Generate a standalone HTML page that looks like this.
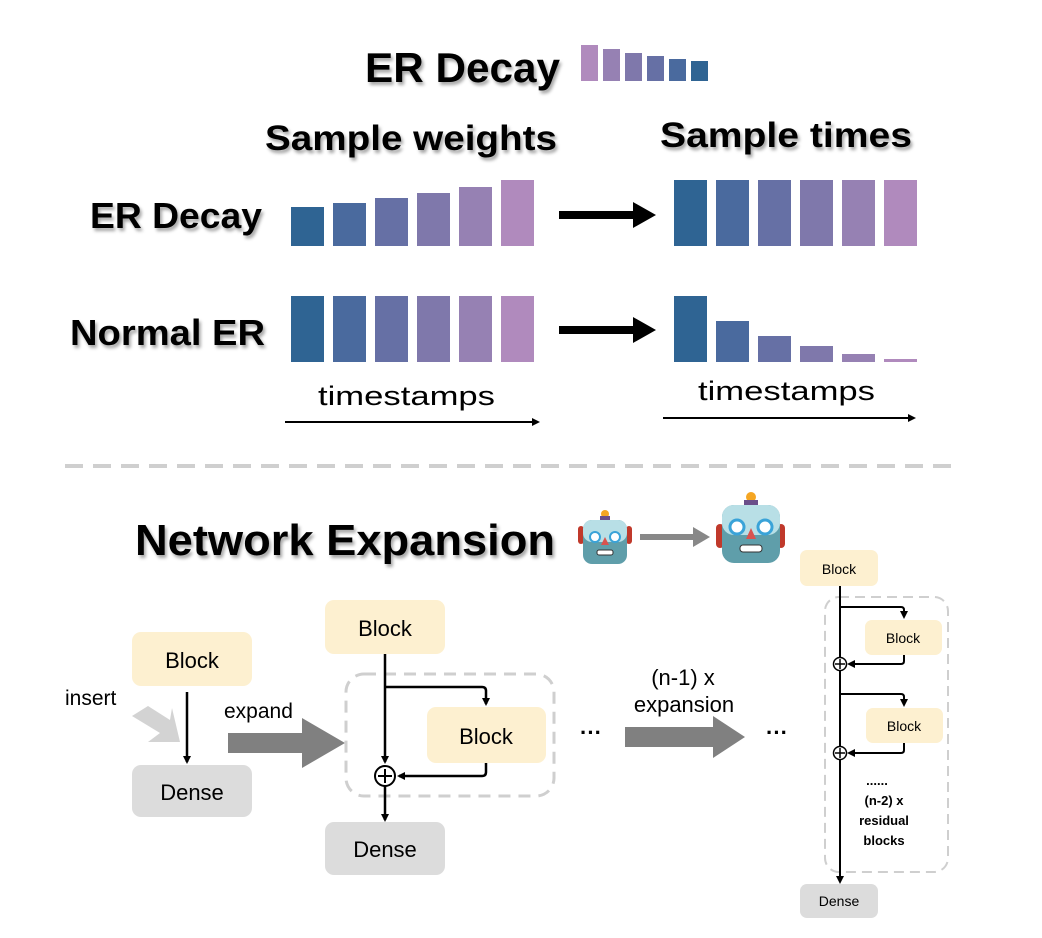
<!DOCTYPE html>
<html><head><meta charset="utf-8"><style>
html,body{margin:0;padding:0;background:#fff;}
svg{display:block;}
.t{font-family:"Liberation Sans","DejaVu Sans",sans-serif;}
.h{font-weight:bold;}
</style></head><body>
<svg width="1042" height="938" viewBox="0 0 1042 938" xmlns="http://www.w3.org/2000/svg">
<defs>
<filter id="sh" x="-5%" y="-5%" width="115%" height="130%"><feDropShadow dx="2" dy="3" stdDeviation="1.5" flood-color="#000" flood-opacity="0.35"/></filter>
<marker id="ah" markerWidth="8" markerHeight="8" refX="6" refY="4" orient="auto" markerUnits="userSpaceOnUse"><path d="M0,0 L8,4 L0,8 Z" fill="#000"/></marker>
<marker id="ah2" markerWidth="12" markerHeight="12" refX="10" refY="6" orient="auto" markerUnits="userSpaceOnUse"><path d="M0,1 L12,6 L0,11 Z" fill="#000"/></marker>
</defs>
<rect width="1042" height="938" fill="#fff"/>

<!-- title -->
<text x="365" y="82" class="t h" font-size="42" filter="url(#sh)" textLength="195" lengthAdjust="spacingAndGlyphs">ER Decay</text>
<g>
<rect x="581" y="45" width="17" height="36" fill="#b08abd"/>
<rect x="603" y="49" width="17" height="32" fill="#9681b3"/>
<rect x="625" y="53" width="17" height="28" fill="#7f78ab"/>
<rect x="647" y="56" width="17" height="25" fill="#6670a5"/>
<rect x="669" y="59" width="17" height="22" fill="#4a6a9e"/>
<rect x="691" y="61" width="17" height="20" fill="#2f6493"/>
</g>

<text x="265" y="150" class="t h" font-size="35" filter="url(#sh)" textLength="292" lengthAdjust="spacingAndGlyphs">Sample weights</text>
<text x="660" y="147" class="t h" font-size="35" filter="url(#sh)" textLength="252" lengthAdjust="spacingAndGlyphs">Sample times</text>
<text x="90" y="228" class="t h" font-size="36" filter="url(#sh)" textLength="172" lengthAdjust="spacingAndGlyphs">ER Decay</text>
<text x="70" y="345" class="t h" font-size="36" filter="url(#sh)" textLength="195" lengthAdjust="spacingAndGlyphs">Normal ER</text>

<!-- ER decay left bars -->
<rect x="291" y="207" width="33" height="39" fill="#2f6493"/>
<rect x="333" y="203" width="33" height="43" fill="#4a6a9e"/>
<rect x="375" y="198" width="33" height="48" fill="#6670a5"/>
<rect x="417" y="193" width="33" height="53" fill="#7f78ab"/>
<rect x="459" y="187" width="33" height="59" fill="#9681b3"/>
<rect x="501" y="180" width="33" height="66" fill="#b08abd"/>
<!-- right -->
<rect x="674" y="180" width="33" height="66" fill="#2f6493"/>
<rect x="716" y="180" width="33" height="66" fill="#4a6a9e"/>
<rect x="758" y="180" width="33" height="66" fill="#6670a5"/>
<rect x="800" y="180" width="33" height="66" fill="#7f78ab"/>
<rect x="842" y="180" width="33" height="66" fill="#9681b3"/>
<rect x="884" y="180" width="33" height="66" fill="#b08abd"/>
<!-- normal left -->
<rect x="291" y="296" width="33" height="66" fill="#2f6493"/>
<rect x="333" y="296" width="33" height="66" fill="#4a6a9e"/>
<rect x="375" y="296" width="33" height="66" fill="#6670a5"/>
<rect x="417" y="296" width="33" height="66" fill="#7f78ab"/>
<rect x="459" y="296" width="33" height="66" fill="#9681b3"/>
<rect x="501" y="296" width="33" height="66" fill="#b08abd"/>
<!-- normal right -->
<rect x="674" y="296" width="33" height="66" fill="#2f6493"/>
<rect x="716" y="321" width="33" height="41" fill="#4a6a9e"/>
<rect x="758" y="336" width="33" height="26" fill="#6670a5"/>
<rect x="800" y="346" width="33" height="16" fill="#7f78ab"/>
<rect x="842" y="354" width="33" height="8" fill="#9681b3"/>
<rect x="884" y="359" width="33" height="3" fill="#b08abd"/>

<!-- thick arrows -->
<path d="M559,211 L633,211 L633,202 L656,215 L633,228 L633,219 L559,219 Z" fill="#000"/>
<path d="M559,326 L633,326 L633,317 L656,330 L633,343 L633,334 L559,334 Z" fill="#000"/>

<text x="318" y="405" class="t" font-size="27" textLength="177" lengthAdjust="spacingAndGlyphs">timestamps</text>
<text x="698" y="400" class="t" font-size="27" textLength="177" lengthAdjust="spacingAndGlyphs">timestamps</text>
<line x1="285" y1="422" x2="538" y2="422" stroke="#000" stroke-width="2" marker-end="url(#ah)"/>
<line x1="663" y1="418" x2="914" y2="418" stroke="#000" stroke-width="2" marker-end="url(#ah)"/>

<line x1="65" y1="466" x2="955" y2="466" stroke="#cfcfcf" stroke-width="4" stroke-dasharray="18,10"/>

<text x="135" y="555" class="t h" font-size="44" filter="url(#sh)" textLength="420" lengthAdjust="spacingAndGlyphs">Network Expansion</text>

<!-- robots -->
<g>
<rect x="578" y="526" width="6" height="18" rx="3" fill="#c0392b"/>
<rect x="626" y="526" width="6" height="18" rx="3" fill="#c0392b"/>
<circle cx="605" cy="514" r="4" fill="#f5a623"/>
<rect x="600" y="516" width="10" height="4" fill="#6b4f8a"/>
<rect x="583" y="520" width="44" height="44" rx="9" fill="#5f9eaa"/>
<rect x="583" y="520" width="44" height="22" rx="9" fill="#b8dfe6"/>
<circle cx="595" cy="537" r="5" fill="#fff" stroke="#3aa3d8" stroke-width="2"/>
<circle cx="615" cy="537" r="5" fill="#fff" stroke="#3aa3d8" stroke-width="2"/>
<path d="M605,537 L601,545 L609,545 Z" fill="#d9534f"/>
<rect x="597" y="550" width="16" height="5" rx="2" fill="#fff" stroke="#333" stroke-width="1"/>
</g>
<path d="M640,534 L693,534 L693,527 L710,537 L693,547 L693,540 L640,540 Z" fill="#888"/>
<g>
<rect x="716" y="524" width="8" height="24" rx="4" fill="#c0392b"/>
<rect x="777" y="524" width="8" height="24" rx="4" fill="#c0392b"/>
<circle cx="751" cy="497" r="5" fill="#f5a623"/>
<rect x="744" y="500" width="14" height="5" fill="#6b4f8a"/>
<rect x="722" y="505" width="58" height="58" rx="12" fill="#5f9eaa"/>
<rect x="722" y="505" width="58" height="30" rx="12" fill="#b8dfe6"/>
<circle cx="737" cy="527" r="7" fill="#fff" stroke="#3aa3d8" stroke-width="3"/>
<circle cx="765" cy="527" r="7" fill="#fff" stroke="#3aa3d8" stroke-width="3"/>
<path d="M751,528 L746,539 L756,539 Z" fill="#d9534f"/>
<rect x="740" y="545" width="22" height="7" rx="3" fill="#fff" stroke="#333" stroke-width="1"/>
</g>

<!-- left diagram -->
<rect x="132" y="632" width="120" height="54" rx="9" fill="#fdf0d0"/>
<text x="192" y="668" class="t" font-size="22" text-anchor="middle">Block</text>
<rect x="132" y="765" width="120" height="52" rx="9" fill="#dcdcdc"/>
<text x="192" y="800" class="t" font-size="22" text-anchor="middle">Dense</text>
<line x1="187" y1="692" x2="187" y2="762" stroke="#000" stroke-width="2.5" marker-end="url(#ah)"/>
<text x="65" y="705" class="t" font-size="21">insert</text>
<path d="M132,716 L148,706 L170,720 L172,708 L180,742 L148,742 L160,733 Z" fill="#d3d3d3"/>
<text x="224" y="718" class="t" font-size="21">expand</text>
<path d="M228,733 L302,733 L302,718 L345,743 L302,768 L302,753 L228,753 Z" fill="#808080"/>

<!-- middle -->
<rect x="325" y="600" width="120" height="54" rx="9" fill="#fdf0d0"/>
<text x="385" y="636" class="t" font-size="22" text-anchor="middle">Block</text>
<rect x="346" y="674" width="208" height="122" rx="18" fill="none" stroke="#cfcfcf" stroke-width="3" stroke-dasharray="12,8"/>
<rect x="427" y="707" width="119" height="56" rx="9" fill="#fdf0d0"/>
<text x="486" y="744" class="t" font-size="22" text-anchor="middle">Block</text>
<line x1="385" y1="654" x2="385" y2="762" stroke="#000" stroke-width="2.5" marker-end="url(#ah)"/>
<path d="M385,687 L482,687 Q486,687 486,691 L486,704" fill="none" stroke="#000" stroke-width="2.5" marker-end="url(#ah)"/>
<path d="M486,763 L486,772 Q486,776 482,776 L399,776" fill="none" stroke="#000" stroke-width="2.5" marker-end="url(#ah)"/>
<circle cx="385" cy="776" r="10" fill="#fff" stroke="#000" stroke-width="2"/>
<line x1="378" y1="776" x2="392" y2="776" stroke="#000" stroke-width="2"/>
<line x1="385" y1="769" x2="385" y2="783" stroke="#000" stroke-width="2"/>
<line x1="385" y1="786" x2="385" y2="820" stroke="#000" stroke-width="2.5" marker-end="url(#ah)"/>
<rect x="325" y="822" width="120" height="53" rx="9" fill="#dcdcdc"/>
<text x="385" y="857" class="t" font-size="22" text-anchor="middle">Dense</text>

<text x="591" y="740" class="t h" font-size="22" text-anchor="middle">···</text>
<text x="683" y="685" class="t" font-size="22" text-anchor="middle">(n-1) x</text>
<text x="684" y="712" class="t" font-size="22" text-anchor="middle">expansion</text>
<path d="M625,727 L713,727 L713,716 L745,737 L713,758 L713,747 L625,747 Z" fill="#808080"/>
<text x="777" y="740" class="t h" font-size="22" text-anchor="middle">···</text>

<!-- right -->
<rect x="800" y="550" width="78" height="36" rx="7" fill="#fdf0d0"/>
<text x="839" y="574" class="t" font-size="14" text-anchor="middle">Block</text>
<rect x="825" y="597" width="123" height="275" rx="14" fill="none" stroke="#cfcfcf" stroke-width="2" stroke-dasharray="10,6"/>
<line x1="840" y1="586" x2="840" y2="882" stroke="#000" stroke-width="2" marker-end="url(#ah)"/>
<rect x="865" y="620" width="77" height="35" rx="7" fill="#fdf0d0"/>
<text x="903" y="643" class="t" font-size="14" text-anchor="middle">Block</text>
<rect x="866" y="708" width="77" height="35" rx="7" fill="#fdf0d0"/>
<text x="904" y="731" class="t" font-size="14" text-anchor="middle">Block</text>
<path d="M840,607 L901,607 Q904,607 904,610 L904,617" fill="none" stroke="#000" stroke-width="2" marker-end="url(#ah)"/>
<path d="M904,655 L904,661 Q904,664 901,664 L849,664" fill="none" stroke="#000" stroke-width="2" marker-end="url(#ah)"/>
<path d="M840,694 L901,694 Q904,694 904,697 L904,705" fill="none" stroke="#000" stroke-width="2" marker-end="url(#ah)"/>
<path d="M904,743 L904,750 Q904,753 901,753 L849,753" fill="none" stroke="#000" stroke-width="2" marker-end="url(#ah)"/>
<circle cx="840" cy="664" r="6.5" fill="#fff" stroke="#000" stroke-width="1.5"/>
<line x1="835" y1="664" x2="845" y2="664" stroke="#000" stroke-width="1.5"/>
<line x1="840" y1="659" x2="840" y2="669" stroke="#000" stroke-width="1.5"/>
<circle cx="840" cy="753" r="6.5" fill="#fff" stroke="#000" stroke-width="1.5"/>
<line x1="835" y1="753" x2="845" y2="753" stroke="#000" stroke-width="1.5"/>
<line x1="840" y1="748" x2="840" y2="758" stroke="#000" stroke-width="1.5"/>
<text x="877" y="785" class="t h" font-size="13" text-anchor="middle">......</text>
<text x="884" y="805" class="t h" font-size="13" text-anchor="middle">(n-2) x</text>
<text x="884" y="825" class="t h" font-size="13" text-anchor="middle">residual</text>
<text x="884" y="845" class="t h" font-size="13" text-anchor="middle">blocks</text>
<rect x="800" y="884" width="78" height="34" rx="7" fill="#dcdcdc"/>
<text x="839" y="906" class="t" font-size="14" text-anchor="middle">Dense</text>
</svg>
</body></html>
